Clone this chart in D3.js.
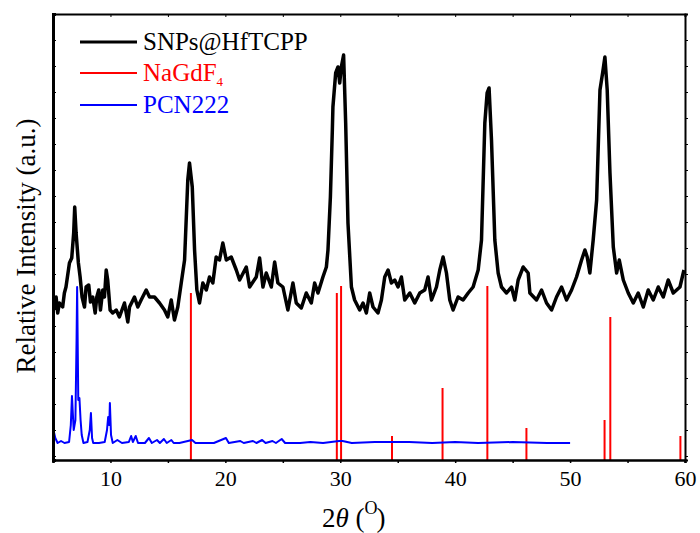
<!DOCTYPE html>
<html>
<head>
<meta charset="utf-8">
<script src="https://cdn.jsdelivr.net/npm/d3@7"></script>
<style>
  body { margin: 0; background: #fff; }
  #chart { width: 700px; height: 533px; }
  text { font-family: "Liberation Serif", "Times New Roman", serif; }
</style>
</head>
<body>
<div id="chart"></div>
<script>
// 2theta (deg) / intensity (a.u.)
const sampleX = [5.12,5.27,5.41,5.56,5.84,5.99,6.13,6.43,6.63,6.80,6.89,7.01,7.21,7.36,7.53,7.74,7.88,8.11,8.26,8.46,8.67,8.81,8.98,9.13,9.33,9.48,9.63,9.76,9.97,10.20,10.50,10.78,11.22,11.51,11.66,12.09,12.38,12.67,13.11,13.40,13.83,14.27,14.70,14.99,15.29,15.57,15.86,16.16,16.45,16.73,16.88,17.12,17.32,17.52,17.75,18.04,18.34,18.62,18.91,19.20,19.49,19.78,20.08,20.51,20.95,21.24,21.82,22.11,22.69,22.98,23.27,23.56,24.00,24.29,24.57,25.01,25.44,25.88,26.17,26.61,27.04,27.48,27.77,28.06,28.49,28.79,28.93,29.14,29.31,29.36,29.60,29.80,29.95,30.09,30.29,30.47,30.67,30.97,31.25,31.69,31.98,32.27,32.56,32.85,33.28,33.58,33.87,34.16,34.45,34.74,35.03,35.32,35.61,36.05,36.48,36.92,37.35,37.64,37.94,38.37,38.66,38.95,39.24,39.53,39.82,40.25,40.69,41.13,41.56,42.00,42.29,42.58,42.78,42.95,43.16,43.45,43.74,44.03,44.47,44.90,45.19,45.48,45.92,46.35,46.50,47.08,47.52,47.95,48.39,48.82,49.26,49.69,50.13,50.56,51.00,51.29,51.49,51.72,52.01,52.31,52.60,52.83,53.03,53.23,53.47,53.76,54.05,54.28,54.63,55.06,55.50,55.93,56.37,56.80,57.24,57.67,58.11,58.54,58.98,59.56,59.91];
const sampleY = [150,163,147,157,153,167,173,197,202,227,253,227,197,183,163,153,173,175,158,163,147,163,170,150,170,163,190,180,150,147,150,143,157,138,153,163,153,160,170,163,163,157,150,143,160,140,153,177,200,280,297,273,210,170,157,177,170,183,177,203,200,217,200,203,190,180,193,173,183,202,173,187,173,198,177,173,150,177,157,152,167,157,177,167,183,193,210,263,330,353,387,393,377,393,405,337,237,173,160,150,157,147,167,153,147,160,183,190,177,180,173,183,160,167,157,167,170,183,160,173,190,203,187,160,150,163,160,167,173,190,220,337,367,372,320,220,187,173,167,173,160,180,193,187,167,160,170,157,150,163,173,160,170,183,200,210,203,187,220,260,370,387,403,370,287,213,187,200,180,167,157,167,153,170,160,173,163,180,167,173,190];

// NaGdF4 reference lines
const refX = [17.0,29.7,30.07,34.5,38.9,42.8,46.2,53.0,53.5,59.6];
const refY = [167,167,174,24,72,174,32,40,143,24];

// PCN222 simulated pattern
const pcnX = [5.0,5.2,5.4,5.7,6.0,6.4,6.55,6.65,6.8,6.95,7.05,7.1,7.2,7.3,7.4,7.5,7.65,8.0,8.2,8.3,8.4,8.5,9.0,9.5,9.7,9.8,9.9,9.95,10.05,10.2,10.6,11.0,11.6,11.8,11.95,12.2,12.4,13.0,13.35,13.6,14.05,14.3,14.65,14.9,15.3,15.5,16.0,17.1,17.4,19.0,20.05,20.3,21.3,21.6,22.4,22.7,23.2,23.5,24.1,24.4,24.9,25.2,26.5,27.4,28.5,29.9,30.2,31.0,33.0,34.5,36.0,38.0,40.0,42.0,45.0,48.0,50.0];
const pcnY = [32,22,17,19,17,18,35,64,30,40,120,173,60,62,40,25,17,18,30,47,22,17,17,18,30,43,35,57,25,17,20,17,18,24,18,24,17,17,22,17,20,17,21,17,20,17,17,20,17,17,22,17,19,17,19,17,20,17,19,17,21,17,17,18,17,19,19,17,18,18,18,17,18,17,18,17,17];

const legendNames = ["SNPs@HfTCPP", "NaGdF", "PCN222"];
const legendColors = ["#000", "#ff0000", "#0000ff"];
const xTicks = [10, 20, 30, 40, 50, 60];
const xMinor = [5, 15, 25, 35, 45, 55];

const width = 700, height = 533;
const margin = { top: 14, left: 53, right: 15, bottom: 73 };

const svg = d3.select("#chart").append("svg")
    .attr("width", width)
    .attr("height", height);

const xScale = d3.scaleLinear().domain([5, 60]).range([margin.left, width - margin.right]);
const yScale = d3.scaleLinear().domain([0, 446]).range([height - margin.bottom, margin.top]);
const yTicks = d3.range(4, 446, 26);

// sticks for NaGdF4
svg.selectAll(".ref")
    .data(refX.map((x, i) => ({ x, y: refY[i] })))
    .enter().append("line")
    .attr("x1", d => xScale(d.x)).attr("x2", d => xScale(d.x))
    .attr("y1", yScale(0)).attr("y2", d => yScale(d.y))
    .attr("stroke", "#ff0000").attr("stroke-width", 2);

const line = d3.line().x(d => xScale(d[0])).y(d => yScale(d[1]));

svg.append("path")
    .datum(pcnX.map((x, i) => [x, pcnY[i]]))
    .attr("d", line)
    .attr("fill", "none").attr("stroke", "#0000ff").attr("stroke-width", 2)
    .attr("stroke-linejoin", "round");

svg.append("path")
    .datum(sampleX.map((x, i) => [x, sampleY[i]]))
    .attr("d", line)
    .attr("fill", "none").attr("stroke", "#000").attr("stroke-width", 3.5)
    .attr("stroke-linejoin", "round");

// axes / frame
const bottomY = yScale(0), topY = yScale(446);
svg.append("g").attr("transform", `translate(0,${bottomY})`)
    .call(d3.axisBottom(xScale).tickValues(xTicks.concat(xMinor)).tickSize(3).tickFormat(d => xTicks.includes(d) ? d : ""))
    .call(g => g.select(".domain").attr("stroke-width", 2.5))
    .call(g => g.selectAll(".tick line").attr("stroke-width", 1.5))
    .call(g => g.selectAll("text").attr("font-size", 22).attr("font-family", "Liberation Serif").attr("dy", "0.9em").attr("fill", "#000"));

svg.append("g").attr("transform", `translate(0,${topY})`)
    .call(d3.axisBottom(xScale).tickValues(xTicks.concat(xMinor)).tickSize(3).tickFormat(""))
    .call(g => g.select(".domain").attr("stroke-width", 2));

svg.append("g").attr("transform", `translate(${margin.left},0)`)
    .call(d3.axisRight(yScale).tickValues(yTicks).tickSize(3).tickFormat(""))
    .call(g => g.select(".domain").attr("stroke-width", 3));

svg.append("g").attr("transform", `translate(${width - margin.right},0)`)
    .call(d3.axisRight(yScale).tickValues(yTicks).tickSize(3).tickFormat(""))
    .call(g => g.select(".domain").attr("stroke-width", 2));

// legend
const legend = svg.append("g");
legendNames.forEach((name, i) => {
    const ly = 42 + i * 31 + (i == 2 ? 1 : 0);
    legend.append("line")
        .attr("x1", 80).attr("x2", 137).attr("y1", ly).attr("y2", ly)
        .attr("stroke", legendColors[i]).attr("stroke-width", i == 0 ? 3 : 2);
    const t = legend.append("text")
        .attr("x", 143).attr("y", ly + 8)
        .attr("font-size", 25).attr("fill", legendColors[i])
        .text(name);
    if (i == 1) {
        t.append("tspan").attr("font-size", 13).attr("dy", 5).text("4");
    }
});

// axis labels
svg.append("text")
    .attr("transform", "rotate(-90)")
    .attr("x", -246).attr("y", 35)
    .attr("text-anchor", "middle")
    .attr("font-size", 27)
    .text("Relative Intensity (a.u.)");

const xl = svg.append("text")
    .attr("x", 322).attr("y", 527)
    .attr("font-size", 27);
xl.append("tspan").text("2");
xl.append("tspan").attr("font-style", "italic").text("θ");
xl.append("tspan").text(" (");
xl.append("tspan").attr("font-size", 18).attr("dy", -13).text("O");
xl.append("tspan").attr("dy", 13).attr("dx", -1).text(")");
</script>
</body>
</html>
